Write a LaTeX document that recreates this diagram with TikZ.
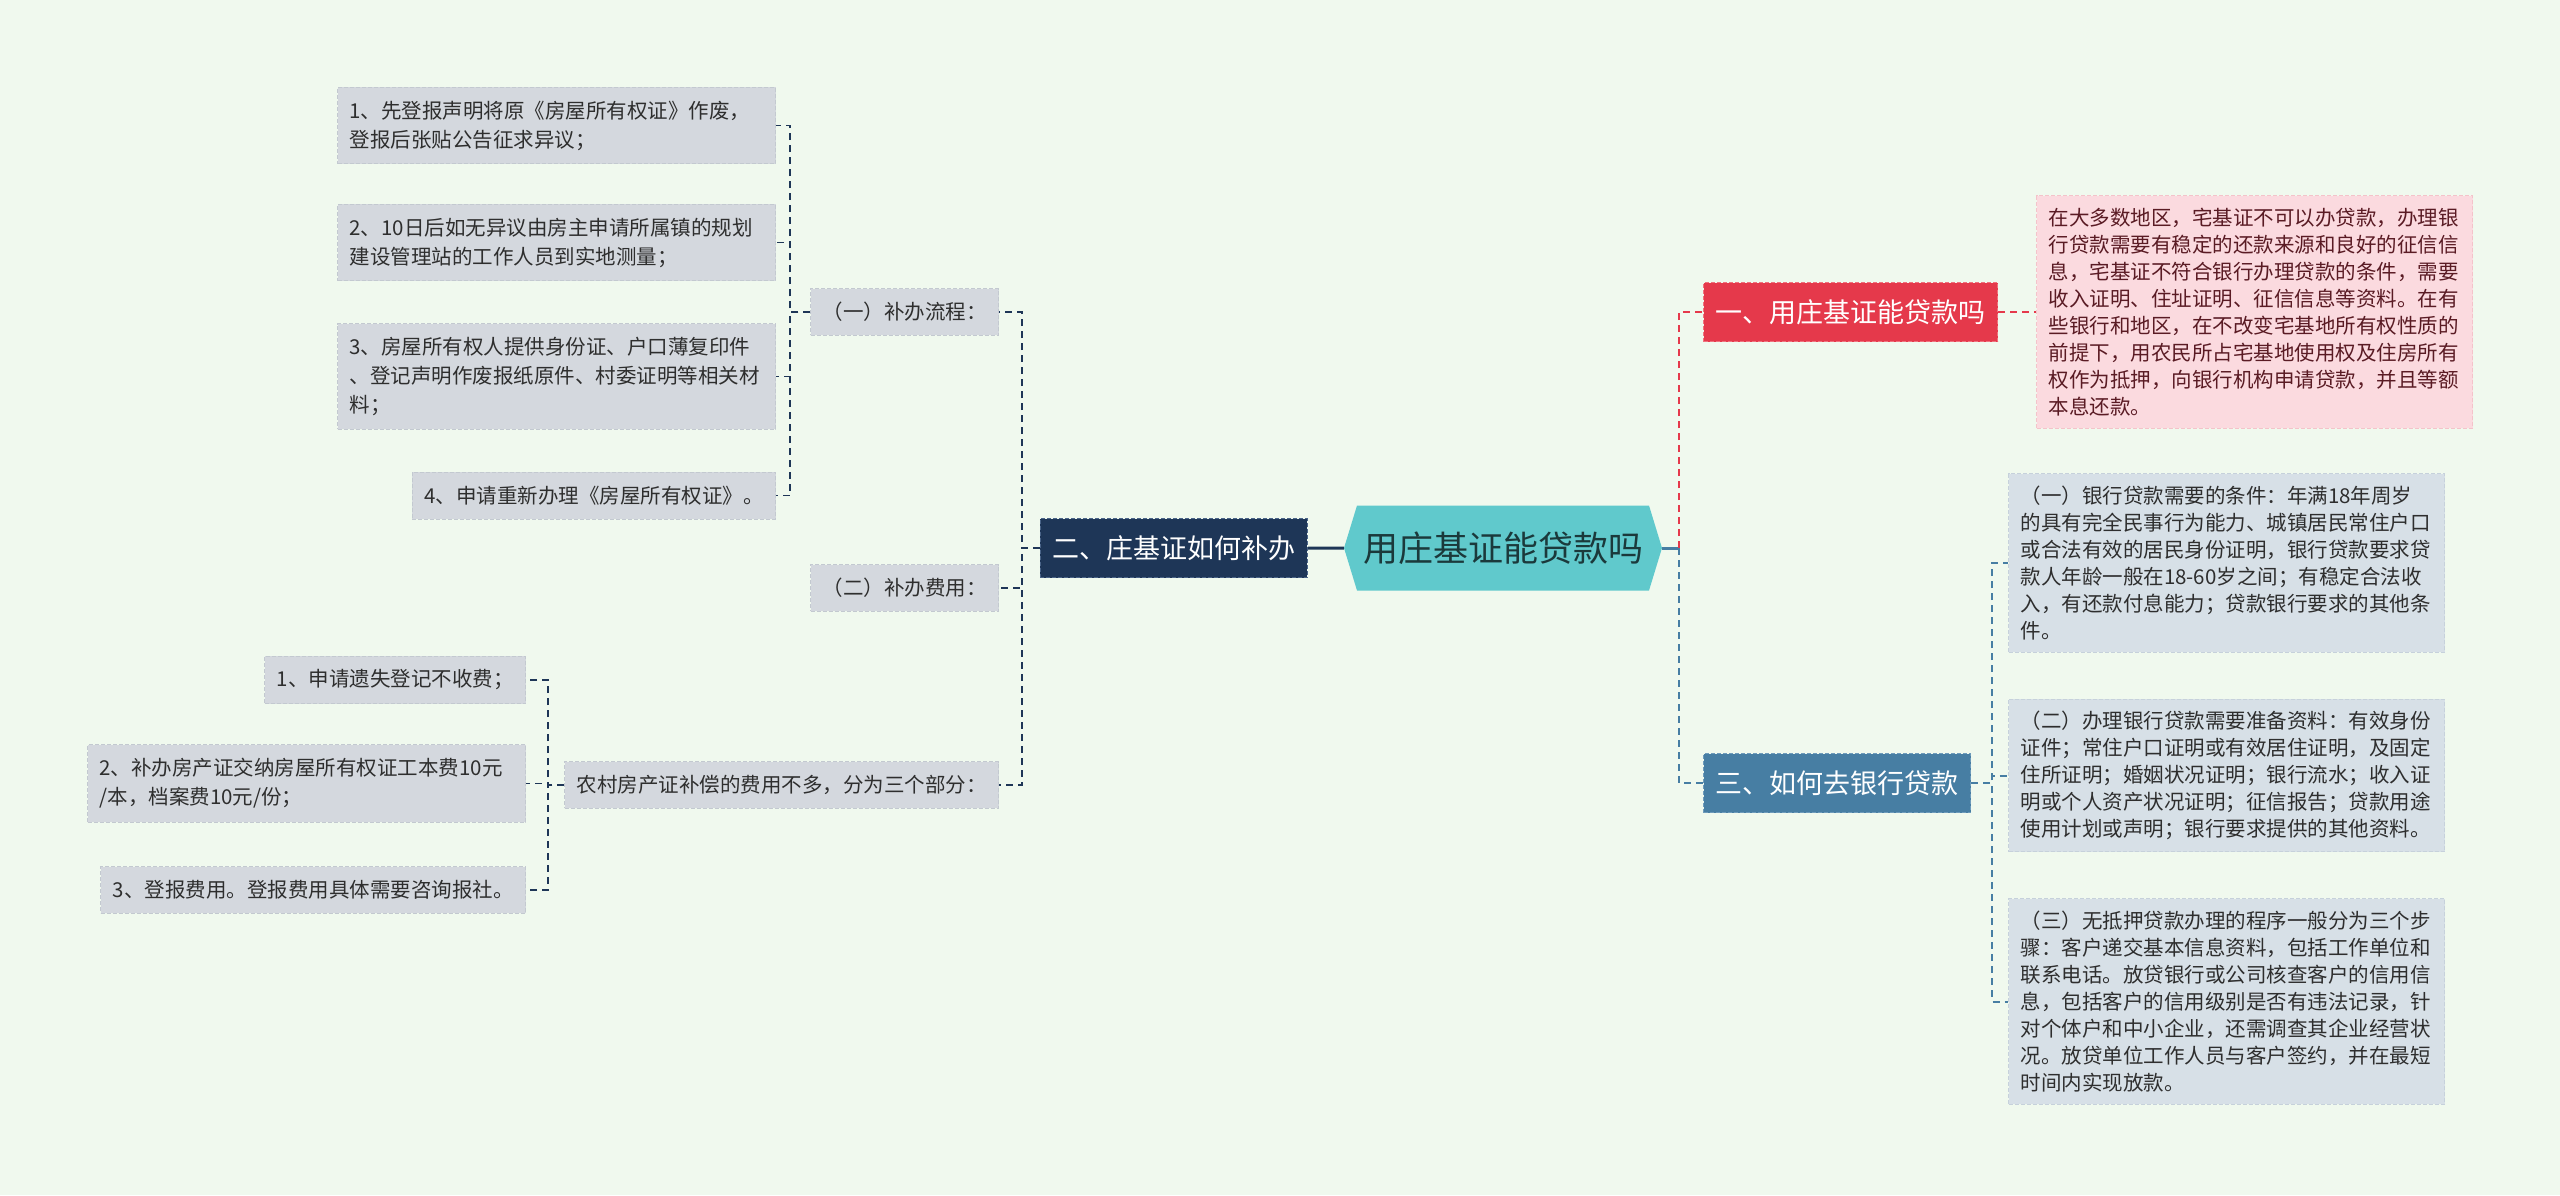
\documentclass[tikz,border=0pt]{standalone}
\usepackage{fontspec}
\setmainfont{Noto Sans CJK SC}
\usepackage{tikz}
\usetikzlibrary{positioning,shapes.symbols}
\definecolor{Bg}{HTML}{F0F9EE}
\definecolor{Teal}{HTML}{60C9CC}
\definecolor{RootInk}{HTML}{1B393B}
\definecolor{Navy}{HTML}{1E3657}
\definecolor{NavyRule}{HTML}{4A6488}
\definecolor{Crimson}{HTML}{E5394B}
\definecolor{CrimsonRule}{HTML}{F0727E}
\definecolor{Steel}{HTML}{477EA3}
\definecolor{SteelRule}{HTML}{6E9BBB}
\definecolor{Leaf}{HTML}{D4D8DE}
\definecolor{LeafRule}{HTML}{C3C9D0}
\definecolor{Mist}{HTML}{D7E0E7}
\definecolor{MistRule}{HTML}{C6D1DB}
\definecolor{Blush}{HTML}{FBDADF}
\definecolor{BlushRule}{HTML}{F4C3CA}
\definecolor{Ink}{HTML}{2E2E2E}
\definecolor{Wine}{HTML}{5A1B24}

\begin{document}
\begin{tikzpicture}[x=1pt, y=-1pt,
  leaf/.style={fill=Leaf, draw=LeafRule, dash pattern=on 4pt off 2pt, line width=1pt, text=Ink, font=\fontsize{20.5}{29}\selectfont, inner xsep=12pt, inner ysep=13.5pt, align=left},
  rleaf/.style={leaf, fill=Mist, draw=MistRule, font=\fontsize{20.5}{27}\selectfont, inner ysep=12pt, text width=412pt, anchor=west},
  mainbox/.style={dash pattern=on 4pt off 2pt, line width=1.2pt, text=white, font=\fontsize{27}{32}\selectfont, inner xsep=12pt, minimum height=59pt},
  link/.style={dash pattern=on 7pt off 5pt, line width=2pt},
  thinlink/.style={link, line width=1.7pt}]
  \fill[Bg] (0,0) rectangle (2560,1195);
  \useasboundingbox (0,0) rectangle (2560,1195);

  % centre and the three main branches
  \node[signal, signal to=east and west, signal pointer angle=146, fill=Teal, text=RootInk, font=\fontsize{35}{40}\selectfont, minimum height=85pt, inner xsep=6pt] (root) at (1503,548) {用庄基证能贷款吗};
  \node[mainbox, fill=Navy, draw=NavyRule, left=36pt of root] (b2) {二、庄基证如何补办};
  \node[mainbox, fill=Crimson, draw=CrimsonRule, anchor=west] (b1) at (1703,312) {一、用庄基证能贷款吗};
  \node[mainbox, fill=Steel, draw=SteelRule, anchor=west] (b3) at (1703,783) {三、如何去银行贷款};

  % right side
  \node[rleaf, fill=Blush, draw=BlushRule, text=Wine, right=38pt of b1] (note) {在大多数地区，宅基证不可以办贷款，办理银\\行贷款需要有稳定的还款来源和良好的征信信\\息，宅基证不符合银行办理贷款的条件，需要\\收入证明、住址证明、征信信息等资料。在有\\些银行和地区，在不改变宅基地所有权性质的\\前提下，用农民所占宅基地使用权及住房所有\\权作为抵押，向银行机构申请贷款，并且等额\\本息还款。};
  \node[rleaf] (q1) at (2008,563) {（一）银行贷款需要的条件：年满18年周岁\\的具有完全民事行为能力、城镇居民常住户口\\或合法有效的居民身份证明，银行贷款要求贷\\款人年龄一般在18-60岁之间；有稳定合法收\\入，有还款付息能力；贷款银行要求的其他条\\件。};
  \node[rleaf] (q2) at (2008,775.5) {（二）办理银行贷款需要准备资料：有效身份\\证件；常住户口证明或有效居住证明，及固定\\住所证明；婚姻状况证明；银行流水；收入证\\明或个人资产状况证明；征信报告；贷款用途\\使用计划或声明；银行要求提供的其他资料。};
  \node[rleaf] (q3) at (2008,1001.5) {（三）无抵押贷款办理的程序一般分为三个步\\骤：客户递交基本信息资料，包括工作单位和\\联系电话。放贷银行或公司核查客户的信用信\\息，包括客户的信用级别是否有违法记录，针\\对个体户和中小企业，还需调查其企业经营状\\况。放贷单位工作人员与客户签约，并在最短\\时间内实现放款。};

  % left side
  \node[leaf, anchor=east, minimum height=46pt] (p1) at (999,312) {（一）补办流程：};
  \node[leaf, anchor=east, minimum height=46pt] (p2) at (999,588) {（二）补办费用：};
  \node[leaf, anchor=east, minimum height=46pt] (p3) at (999,785) {农村房产证补偿的费用不多，分为三个部分：};
  \node[leaf, anchor=east, text width=414pt] (s1) at (776,125.5) {1、先登报声明将原《房屋所有权证》作废，\\登报后张贴公告征求异议；};
  \node[leaf, anchor=east, text width=414pt] (s2) at (776,242.5) {2、10日后如无异议由房主申请所属镇的规划\\建设管理站的工作人员到实地测量；};
  \node[leaf, anchor=east, text width=414pt] (s3) at (776,376.5) {3、房屋所有权人提供身份证、户口薄复印件\\、登记声明作废报纸原件、村委证明等相关材\\料；};
  \node[leaf, anchor=east, minimum height=47pt] (s4) at (776,495.5) {4、申请重新办理《房屋所有权证》。};
  \node[leaf, anchor=east, minimum height=47pt] (f1) at (526,680) {1、申请遗失登记不收费；};
  \node[leaf, anchor=east, text width=414pt] (f2) at (526,783.5) {2、补办房产证交纳房屋所有权证工本费10元\\/本，档案费10元/份；};
  \node[leaf, anchor=east, minimum height=46pt] (f3) at (526,890) {3、登报费用。登报费用具体需要咨询报社。};

  % connectors
  \draw[Navy, line width=3pt] (root) -- (b2);
  \draw[Steel, line width=3pt] (root.east) -- ++(17,0) coordinate (rj);
  \draw[link, Crimson] (rj) |- (b1.west);
  \draw[link, Steel] (rj) |- (b3.west);
  \draw[link, Crimson] (b1) -- (note);
  \foreach \n in {q1,q2,q3}
    \draw[link, Steel] (b3.east) -- ++(21,0) |- (\n.west);
  \foreach \n in {p1,p2,p3}
    \draw[link, Navy] (b2.west) -- ++(-18,0) |- (\n.east);
  \foreach \n in {s1,s2,s3,s4}
    \draw[thinlink, Navy] (p1.west) -- ++(-20,0) |- (\n.east);
  \foreach \n in {f1,f2,f3}
    \draw[thinlink, Navy] (p3.west) -- ++(-16,0) |- (\n.east);
\end{tikzpicture}
\end{document}
